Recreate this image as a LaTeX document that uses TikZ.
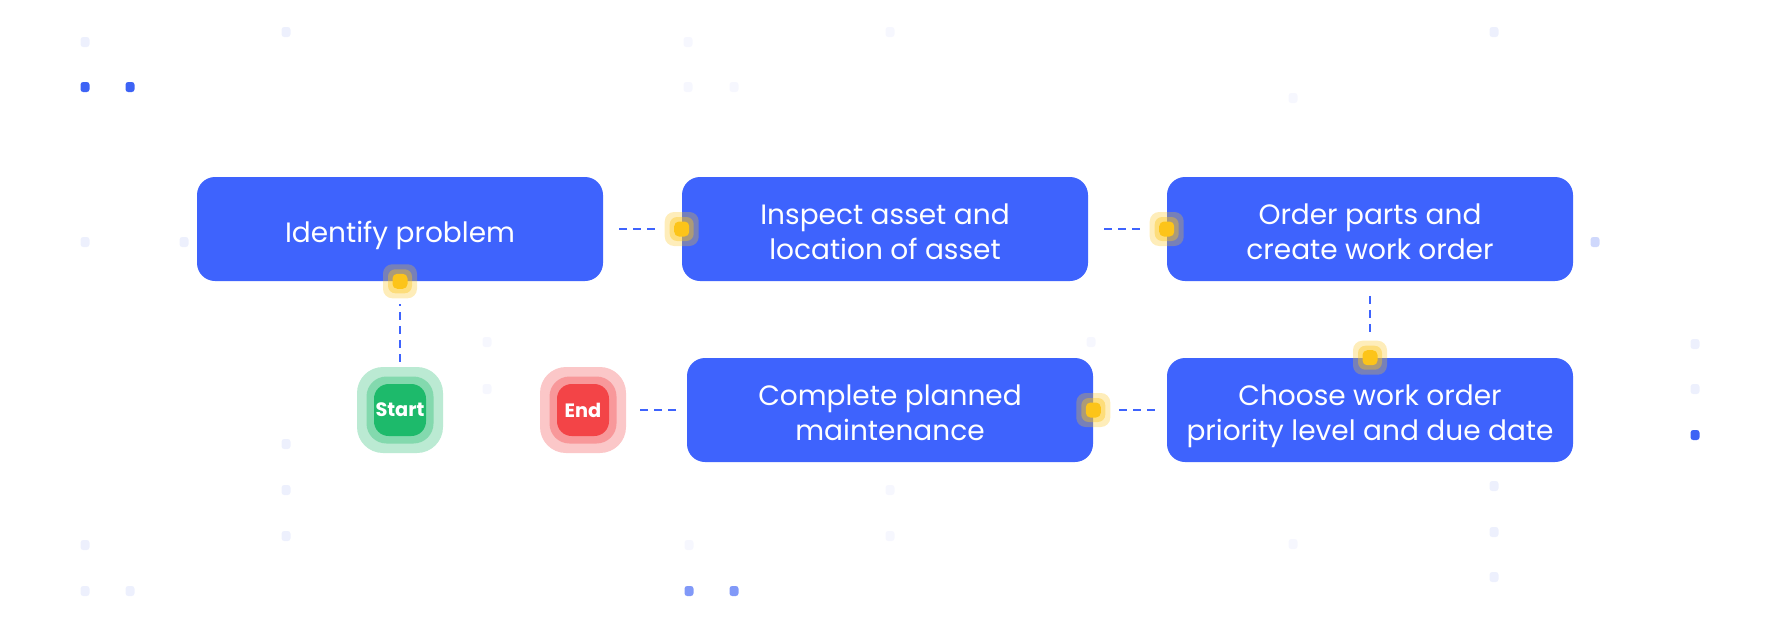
\documentclass[tikz,border=0pt]{standalone}
\usepackage{fontspec}
\setmainfont{Poppins}
\definecolor{stepblue}{HTML}{3E63FD}
\definecolor{glowyel}{HTML}{FCC419}
\definecolor{startgr}{HTML}{1DBA6B}
\definecolor{endrd}{HTML}{F34447}
\definecolor{dotlight}{HTML}{EDF0FD}
\definecolor{dotfaint}{HTML}{F6F7FE}
\definecolor{dotmid}{HTML}{8199F8}
\definecolor{dotpale}{HTML}{CFD8FC}
\definecolor{dotblue}{HTML}{3D63F5}
\newcommand{\ST}[1]{\raisebox{-4.5pt}[\height][\depth]{\begin{tabular}{@{}c@{}}#1\end{tabular}}}

\begin{document}
\begin{tikzpicture}[x=0.75pt, y=-0.75pt,
  stepbox/.style={fill=stepblue, rounded corners=13.5pt, minimum width=304.5pt,
    minimum height=78pt, inner sep=0pt, text=white,
    font=\fontsize{21}{26.25}\selectfont},
  link/.style={draw=stepblue, line width=1.9pt, dash pattern=on 6pt off 4.5pt,
    shorten <=12pt, shorten >=17pt},
  glowout/.style={fill=glowyel, fill opacity=0.3, minimum size=25.5pt, inner sep=0pt, rounded corners=7pt},
  glowmid/.style={fill=glowyel, fill opacity=0.4, minimum size=18pt, inner sep=0pt, rounded corners=5.5pt},
  glowin/.style={fill=glowyel, minimum size=11.25pt, inner sep=0pt, rounded corners=3.5pt},
  ringout/.style={fill=#1!30, minimum size=64.5pt, inner sep=0pt, rounded corners=19.5pt},
  ringmid/.style={fill=#1!55, minimum size=50.25pt, inner sep=0pt, rounded corners=15pt},
  ringin/.style={fill=#1, minimum size=39pt, inner sep=0pt, rounded corners=11pt,
    text=white, font=\fontsize{14.5}{17}\selectfont\bfseries},
  bgdot/.style={fill=#1, rounded corners=2pt}]

  \useasboundingbox (0,0) rectangle (1770,640);

  \newcommand\X{485}
  \newcommand\Y{181}

  % background dots
  \foreach \dx/\dy in {85/42, 286/32, 85/242, 184/242, 1494/32, 1695/344, 1695/389,
      286/444, 286/490, 286/536, 85/545, 85/591, 130/591, 1494/486, 1494/532, 1494/577}
    \fill[bgdot=dotlight] (\dx-4.5, \dy-5) rectangle ++(9, 10);
  \foreach \dx/\dy in {688/42, 688/87, 734/87, 890/32, 1293/98, 487/342, 487/389,
      1091/342, 689/545, 890/490, 890/536, 1293/544}
    \fill[bgdot=dotfaint] (\dx-4.5, \dy-5) rectangle ++(9, 10);
  \foreach \dx/\dy in {85/87, 130/87, 1695/435}
    \fill[bgdot=dotblue] (\dx-4.5, \dy-5) rectangle ++(9, 10);
  \foreach \dx/\dy in {689/591, 734/591}
    \fill[bgdot=dotmid] (\dx-4.5, \dy-5) rectangle ++(9, 10);
  \fill[bgdot=dotpale] (1595-4.5, 242-5) rectangle ++(9, 10);

  % steps
  \node[stepbox] (identify) at (400+0*\X, 229+0*\Y) {\ST{Identify problem}};
  \node[stepbox] (inspect)  at (400+1*\X, 229+0*\Y) {\ST{Inspect asset and\\location of asset}};
  \node[stepbox] (order)    at (400+2*\X, 229+0*\Y) {\ST{Order parts and\\create work order}};
  \node[stepbox] (choose)   at (400+2*\X, 229+1*\Y) {\ST{Choose work order\\priority level and due date}};
  \node[stepbox] (complete) at (890, 229+1*\Y) {\ST{Complete planned\\maintenance}};

  % start and end
  \node[ringout=startgr] (start) at (400, 410) {};
  \node[ringmid=startgr] (start-mid) at (start) {};
  \node[ringin=startgr] (start-core) at (start) {Start};
  \node[ringout=endrd] (end) at (583, 410) {};
  \node[ringmid=endrd] (end-mid) at (end) {};
  \node[ringin=endrd] (end-core) at (end) {End};

  % links
  \draw[link, shorten <=3.75pt] (start.north) -- (identify.south);
  \draw[link] (identify.east) -- (inspect.west);
  \draw[link] (inspect.east) -- (order.west);
  \draw[link, shorten <=11pt] (order.south) -- (choose.north);
  \draw[link, shorten <=9pt] (choose.west) -- (complete.east);
  \draw[link, shorten <=8pt, shorten >=8pt] (complete.west) -- (end.east);

  % glow marks
  \newcommand\glow[2]{%
    \node[glowout] (#1) at (#2) {};
    \node[glowmid] (#1-mid) at (#2) {};
    \node[glowin] (#1-core) at (#2) {};}
  \glow{g-identify}{identify.south}
  \glow{g-inspect}{inspect.west}
  \glow{g-order}{order.west}
  \glow{g-choose}{choose.north}
  \glow{g-complete}{complete.east}
\end{tikzpicture}
\end{document}
